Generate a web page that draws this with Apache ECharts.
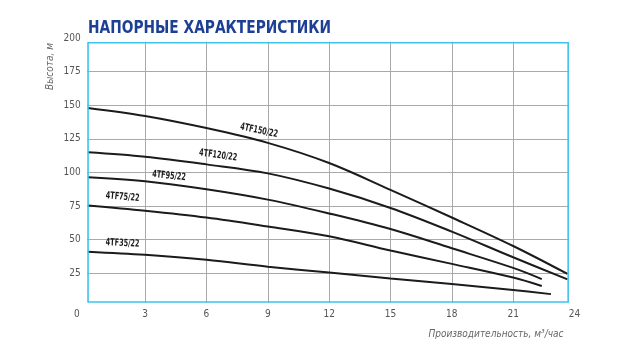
<!DOCTYPE html>
<html>
<head>
<meta charset="utf-8">
<script src="https://cdn.jsdelivr.net/npm/echarts@6/dist/echarts.min.js"></script>
<style>
html,body{margin:0;padding:0;background:#fff;}
#chart{width:635px;height:357px;}
</style>
</head>
<body>
<div id="chart"></div>
<script>
// ---- data ----
const chartTitle = 'НАПОРНЫЕ ХАРАКТЕРИСТИКИ';
const xName = 'Производительность, м³/час';
const yName = 'Высота, м';
const xTickStep = 3;
const yTickStep = 25;
const xMax = 24;
const yMax = 200;

const names = ['4TF150/22', '4TF120/22', '4TF95/22', '4TF75/22', '4TF35/22'];

const flow150 = [0.2, 3, 6, 9, 12, 15, 18, 21, 23.66];
const head150 = [148, 142, 133, 122, 107, 87, 66.5, 45.3, 24.5];

const flow120 = [0.2, 3, 6, 9, 12, 15, 18, 21, 23.66];
const head120 = [115, 111.7, 106, 99.3, 88, 73.6, 56, 36.9, 20.5];

const flow95 = [0.2, 3, 6, 9, 12, 15, 18, 21, 22.4];
const head95 = [96.5, 93.5, 87.5, 79.8, 69.5, 57.9, 43.6, 29, 20.7];

const flow75 = [0.2, 3, 6, 9, 12, 15, 18, 21, 22.4];
const head75 = [75.5, 71.6, 66.5, 59.8, 52.5, 41.9, 32, 21.8, 15.5];

const flow35 = [0.2, 3, 6, 9, 12, 15, 18, 21, 22.85];
const head35 = [41.1, 38.7, 35, 29.9, 25.6, 21.2, 17, 12.6, 9.5];

// curve name label anchors (data units) and text angle (degrees)
const labelFlow = [8.57, 6.57, 4.17, 1.9, 1.9];
const labelHead = [131, 112.7, 97.4, 81.7, 47.3];
const labelAngle = [-12, -8, -6, -5, -3];

// drawn frame bounds (data units)
const frameFlow = [0.21, 23.69];
const frameHead = [3.6, 196.5];

// ---- chart ----
const FONT = '"Liberation Sans Narrow", "DejaVu Sans Condensed", sans-serif';
const flows = [flow150, flow120, flow95, flow75, flow35];
const heads = [head150, head120, head95, head75, head35];

const chart = echarts.init(document.getElementById('chart'), null, {renderer: 'canvas'});

const series = names.map((n, i) => ({
  name: n,
  type: 'line',
  smooth: 0.35,
  showSymbol: false,
  silent: true,
  data: flows[i].map((x, j) => [x, heads[i][j]]),
  lineStyle: {color: '#1b1b1b', width: 2},
  z: 5
}));

const gridBox = {left: 83.75, right: 60.5, top: 38, bottom: 50.1};

chart.setOption({
  animation: false,
  backgroundColor: '#ffffff',
  grid: Object.assign({containLabel: false}, gridBox),
  xAxis: {
    type: 'value',
    min: 0,
    max: xMax,
    interval: xTickStep,
    name: xName,
    nameLocation: 'end',
    nameGap: -11,
    nameTextStyle: {
      fontStyle: 'italic', fontSize: 10, color: '#666', fontFamily: FONT,
      align: 'right', verticalAlign: 'top', padding: [23, 0, 0, 0]
    },
    axisLine: {show: false},
    axisTick: {show: false},
    axisLabel: {
      margin: 3,
      color: '#555',
      fontSize: 10,
      fontFamily: FONT,
      formatter: v => (v === 0 ? '{z|0}' : String(v)),
      rich: {z: {padding: [0, 14, 0, 0], color: '#555', fontSize: 10, fontFamily: FONT}}
    },
    splitLine: {show: true, showMinLine: false, showMaxLine: false, lineStyle: {color: '#a9a9a9', width: 1}}
  },
  yAxis: {
    type: 'value',
    min: 0,
    max: yMax,
    interval: yTickStep,
    name: yName,
    nameLocation: 'end',
    nameRotate: 90,
    nameGap: -5,
    nameTextStyle: {
      fontStyle: 'italic', fontSize: 10, color: '#666', fontFamily: FONT,
      align: 'right', verticalAlign: 'bottom', padding: [0, 0, 28, 0]
    },
    axisLine: {show: false},
    axisTick: {show: false},
    axisLabel: {margin: 3, color: '#555', fontSize: 10, fontFamily: FONT, showMinLabel: false},
    splitLine: {show: true, showMinLine: false, showMaxLine: false, lineStyle: {color: '#a9a9a9', width: 1}}
  },
  series: series
});

// frame, masking strips, title and curve names placed through the axes
const pMin = chart.convertToPixel({gridIndex: 0}, [frameFlow[0], frameHead[0]]);
const pMax = chart.convertToPixel({gridIndex: 0}, [frameFlow[1], frameHead[1]]);
const W = 635, H = 357;
const gL = gridBox.left, gR = W - gridBox.right, gT = gridBox.top, gB = H - gridBox.bottom;
const fx0 = pMin[0], fy0 = pMax[1], fx1 = pMax[0], fy1 = pMin[1];
const white = {fill: '#ffffff'};

const nameLabels = names.map((n, i) => {
  const p = chart.convertToPixel({gridIndex: 0}, [labelFlow[i], labelHead[i]]);
  return {
    type: 'text', z: 70, silent: true,
    x: p[0], y: p[1],
    rotation: labelAngle[i] * Math.PI / 180,
    scaleX: 0.72,
    style: {text: n, fill: '#1b1b1b', font: 'bold 10px ' + FONT, textAlign: 'center', textVerticalAlign: 'middle'}
  };
});

chart.setOption({
  graphic: [
    {type: 'rect', z: 50, silent: true, shape: {x: gL - 2, y: gT - 2, width: gR - gL + 4, height: fy0 - gT + 1}, style: white},
    {type: 'rect', z: 50, silent: true, shape: {x: gL - 2, y: fy1 + 1, width: gR - gL + 4, height: gB - fy1 - 0.5}, style: white},
    {type: 'rect', z: 50, silent: true, shape: {x: gL - 2, y: gT - 2, width: fx0 - gL + 1, height: gB - gT + 3}, style: white},
    {type: 'rect', z: 50, silent: true, shape: {x: fx1 + 1, y: gT - 2, width: gR - fx1 + 2, height: gB - gT + 3}, style: white},
    {type: 'rect', z: 60, silent: true, shape: {x: fx0, y: fy0, width: fx1 - fx0, height: fy1 - fy0},
     style: {fill: null, stroke: '#3ec3ee', lineWidth: 1.6}},
    {type: 'text', z: 70, silent: true, x: 88, y: 28.5, scaleX: 0.875,
     style: {text: chartTitle, fill: '#1d3f94', font: 'bold 17.5px ' + FONT, textAlign: 'left', textVerticalAlign: 'middle'}}
  ].concat(nameLabels)
});
</script>
</body>
</html>
